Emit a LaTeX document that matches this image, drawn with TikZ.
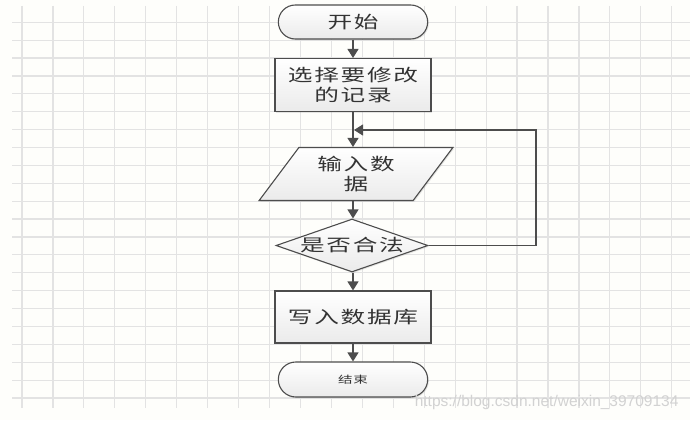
\documentclass[tikz,border=0pt]{standalone}
\usepackage{fontspec}
\newfontfamily\cjk[FakeStretch=1.45,LetterSpace=10]{Noto Sans CJK SC}
\newfontfamily\markfont{Liberation Sans}
\usetikzlibrary{arrows.meta,shapes.geometric,shapes.misc,shadows}
\definecolor{lineGray}{HTML}{4D4D4D}
\definecolor{gridGray}{HTML}{E3E3E3}
\definecolor{paper}{HTML}{FEFEFB}
\tikzset{
  flowbase/.style={draw=lineGray, line width=1.1pt, top color=white,
    bottom color=gray!16, text=black!80, align=center,
    font=\cjk\fontsize{17}{20}\selectfont,
    drop shadow={opacity=0.2, shadow xshift=1.2pt, shadow yshift=-1.2pt}},
  procbox/.style={flowbase, rectangle, minimum width=156pt, minimum height=53pt},
  termbox/.style={flowbase, rounded rectangle, minimum width=156pt, minimum height=34pt},
  iobox/.style={flowbase, trapezium, trapezium left angle=53, trapezium right angle=127,
    trapezium stretches=true, minimum width=194pt, minimum height=53pt, inner sep=0pt},
  testbox/.style={flowbase, diamond, aspect=2.87, inner xsep=-10pt, inner ysep=0pt,
    minimum width=152pt, minimum height=53pt},
  flowarr/.style={draw=lineGray, line width=1.1pt,
    -{Triangle[width=11pt,length=9pt]}},
}
\begin{document}
\begin{tikzpicture}[x=1pt, y=-1pt]
  \useasboundingbox[fill=paper] (0,0) rectangle (690,420);
  % Grid
  \foreach \i in {0,...,21}
    \draw[gridGray, line width=1.2pt] (22+30.94*\i,6) -- (22+30.94*\i,408);
  \foreach \j in {0,...,21}
    \draw[gridGray, line width=1.2pt] (12,22.3+17.89*\j) -- (690,22.3+17.89*\j);
  % Flow nodes
  \node[termbox] (start) at (353,22) {开始};
  \node[procbox] (select) at (353,85) {选择要修改\\的记录};
  \node[iobox] (input) at (356,174) {输入数\\据};
  \node[testbox] (check) at (352,245.5) {是否合法};
  \node[procbox, minimum height=52pt] (write) at (353,317) {写入数据库};
  \node[termbox, minimum height=35pt, font=\cjk\fontsize{10}{12}\selectfont]
    (stop) at (353,379.5) {结束};
  % Connectors
  \coordinate (merge) at (353,130);
  \coordinate (loopR) at (536,245.5);
  \draw[flowarr] (start.south) -- (select.north);
  \draw[flowarr] (select.south) -- (input.north -| select.south);
  \draw[flowarr] (check.east) -- (loopR) |- ([xshift=1pt]merge);
  \draw[flowarr] (input.south -| select.south) -- (check.north -| select.south);
  \draw[flowarr] (check.south -| select.south) -- (write.north);
  \draw[flowarr] (write.south) -- (stop.north);
  % Watermark
  \node[text=gray!35, font=\markfont\fontsize{15.5}{17}\selectfont, anchor=east]
    (mark) at (682,402) {https://blog.csdn.net/weixin\_39709134};
\end{tikzpicture}
\end{document}
